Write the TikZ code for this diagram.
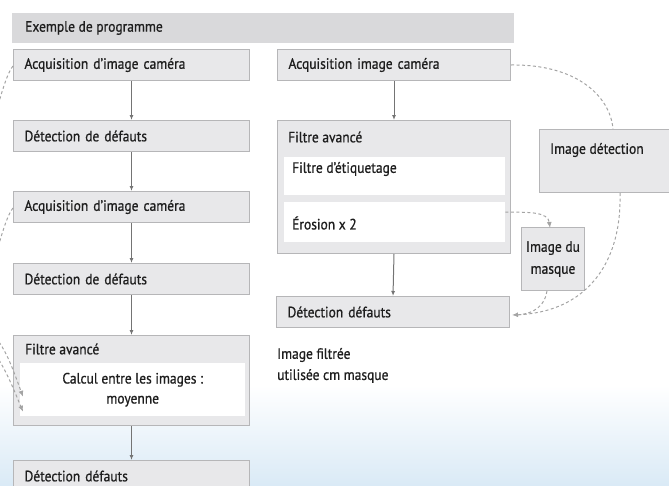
\documentclass[tikz,border=0pt]{standalone}
\usepackage{fontspec}
\setmainfont{PT Sans}[FakeStretch=0.9, FakeBold=0.8]
\usetikzlibrary{arrows.meta}
\definecolor{boxfill}{HTML}{E8E8EA}
\definecolor{boxdraw}{HTML}{B6B6B8}
\definecolor{titlefill}{HTML}{D9D9DB}
\definecolor{txt}{HTML}{1E1E1E}
\definecolor{arr}{HTML}{747474}
\definecolor{dsh}{HTML}{A4A4A4}
\definecolor{skyb}{HTML}{DAEAF6}
\tikzset{
  box/.style={draw=boxdraw, fill=boxfill, line width=1pt, minimum height=31pt,
    inner xsep=11pt, inner ysep=0pt, align=left, anchor=north west, text=txt},
  panel/.style={draw=boxdraw, fill=boxfill, line width=1pt, anchor=north west, inner sep=0pt},
  inner/.style={fill=white, anchor=north west, inner sep=0pt},
  lbl/.style={text=txt, anchor=west, inner sep=0pt, align=left},
  flow/.style={draw=arr, line width=1pt, -{Latex[length=5pt,width=4pt]}},
  dflow/.style={draw=dsh, line width=1pt, dash pattern=on 3pt off 2.5pt},
  dtip/.style={-{Latex[length=6pt,width=5pt]}, dsh}
}
\begin{document}
\begin{tikzpicture}[x=1pt,y=-1pt, font=\fontsize{15}{18}\selectfont]
\useasboundingbox (0,0) rectangle (669,485);
\shade[top color=white, bottom color=skyb] (0,385) rectangle (669,485);
% title bar
\node[fill=titlefill, anchor=north west, minimum width=502pt, minimum height=30pt, inner sep=0pt] (title) at (12,13) {};
\node[lbl] (titlet) at (25,28) {Exemple de programme};
% left column
\node[box, text width=214pt] (a1) at (13,49) {Acquisition d’image caméra};
\node[box, text width=214pt] (d1) at (13,120) {Détection de défauts};
\node[box, text width=214pt] (a2) at (13,191) {Acquisition d’image caméra};
\node[box, text width=214pt] (d2) at (13,263) {Détection de défauts};
\node[panel, minimum width=236pt, minimum height=90pt] (f1) at (13,335) {};
\node[lbl] (f1t) at (25,349) {Filtre avancé};
\node[inner, minimum width=225pt, minimum height=53pt, align=center, text=txt, font=\fontsize{15}{20}\selectfont] (calc) at (20,363) {Calcul entre les images :\\moyenne};
\node[box, text width=214pt] (d3) at (13,460) {Détection défauts};
\draw[flow] (a1.south) -- (d1.north);
\draw[flow] (d1.south) -- (a2.north);
\draw[flow] (a2.south) -- (d2.north);
\draw[flow] (d2.south) -- (f1.north);
\draw[flow] (f1.south) -- (d3.north);
% left dashed partial curves
\coordinate (l1) at (-1,102);
\coordinate (l2) at (-1,244);
\coordinate (l3) at (-1,342);
\coordinate (l4) at (-1,360);
\draw[dflow] ([yshift=-1pt]a1.west) .. controls (8,72) and (3,88) .. (l1);
\draw[dflow] ([yshift=-1pt]a2.west) .. controls (8,214) and (3,230) .. (l2);
\draw[dflow, dtip] (l3) .. controls (8,355) and (14,372) .. ([xshift=3pt,yshift=-7pt]calc.west);
\draw[dflow, dtip] (l4) .. controls (8,375) and (14,390) .. ([xshift=3pt,yshift=-22pt]calc.west);
% right column
\node[box, text width=211pt] (ar) at (277,49) {Acquisition image caméra};
\node[panel, minimum width=233pt, minimum height=133pt] (fr) at (277,120) {};
\node[lbl] (frt) at (288,137) {Filtre avancé};
\node[inner, minimum width=221pt, minimum height=38pt] (etiq) at (284,157) {};
\node[lbl] (etiqt) at (292,169) {Filtre d’étiquetage};
\node[inner, minimum width=221pt, minimum height=40pt] (eros) at (284,202) {};
\node[lbl] (erost) at (292,223) {Érosion x 2};
\node[box, text width=211pt] (dr) at (276,296) {Détection défauts};
\draw[flow] (ar.south) -- (fr.north);
\draw[flow] (fr.south) -- (dr.north);
\node[panel, minimum width=132pt, minimum height=63pt] (idet) at (539,129) {};
\node[lbl] (idett) at (550,150) {Image détection};
\node[panel, minimum width=63pt, minimum height=63pt, align=center, text=txt, font=\fontsize{15}{22}\selectfont] (mask) at (521,227) {Image du\\masque};
\node[lbl] (note) at (277,355) {Image filtrée};
\node[lbl] (note2) at (277,376) {utilisée cm masque};
% right dashed curves
\draw[dflow] (ar.east) .. controls (575,64) and (610,95) .. ([xshift=74pt]idet.north west);
\draw[dflow, dtip] ([xshift=81pt]idet.south west) .. controls (622,265) and (585,312) .. ([xshift=2pt,yshift=-3pt]dr.east);
\draw[dflow, dtip] ([yshift=10pt]eros.east) .. controls (530,212) and (548,212) .. ([xshift=29pt,yshift=-1pt]mask.north west);
\draw[dflow] ([xshift=26pt]mask.south west) .. controls (545,305) and (535,314) .. ([xshift=6pt,yshift=-3pt]dr.east);
\end{tikzpicture}
\end{document}
